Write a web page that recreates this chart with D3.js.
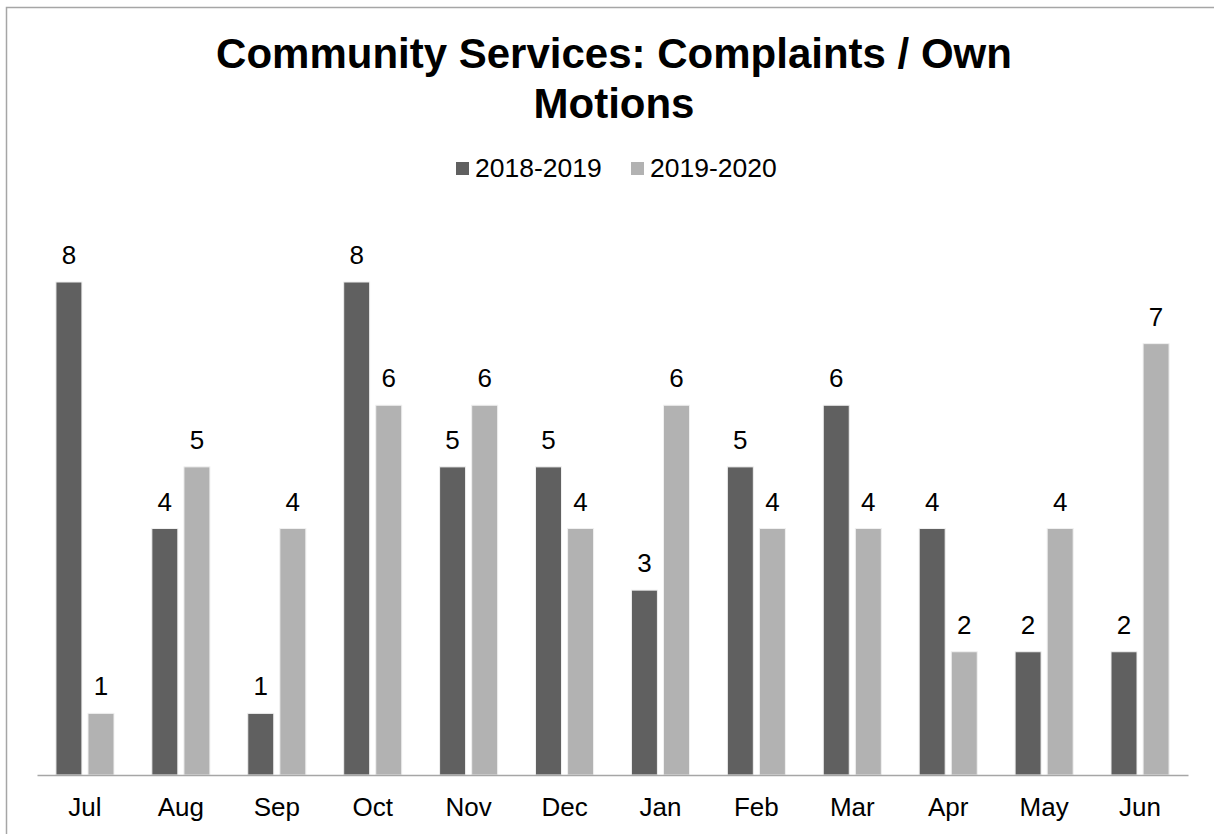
<!DOCTYPE html>
<html>
<head>
<meta charset="utf-8">
<script src="https://cdn.jsdelivr.net/npm/d3@7/dist/d3.min.js"></script>
<style>
  html, body { margin: 0; padding: 0; background: #fff; }
  svg { display: block; font-family: "Liberation Sans", Arial, sans-serif; }
</style>
</head>
<body>
<svg id="chart" width="1214" height="834"></svg>
<script>
// Monthly complaints / own motions, by financial year
const months = ["Jul", "Aug", "Sep", "Oct", "Nov", "Dec", "Jan", "Feb", "Mar", "Apr", "May", "Jun"];
const seriesNames = ["2018-2019", "2019-2020"];
const values2018 = [8, 4, 1, 8, 5, 5, 3, 5, 6, 4, 2, 2];
const values2019 = [1, 5, 4, 6, 6, 4, 6, 4, 4, 2, 4, 7];
const seriesColors = ["#606060", "#b2b2b2"];
const titleLines = ["Community Services: Complaints / Own", "Motions"];

const series = [values2018, values2019];

const svg = d3.select("#chart");
const W = 1214, H = 834;

// Outer chart frame (only the top and left edges fall inside the viewport)
svg.append("rect")
  .attr("x", 6.5).attr("y", 7.5)
  .attr("width", W).attr("height", H)
  .attr("fill", "#fff")
  .attr("stroke", "#a6a6a6")
  .attr("stroke-width", 1.5);

// Title
const title = svg.append("text")
  .attr("text-anchor", "middle")
  .attr("font-size", 42)
  .attr("font-weight", "bold")
  .attr("fill", "#000");
titleLines.forEach((line, i) => {
  title.append("tspan").attr("x", 614).attr("y", 68 + i * 50).text(line);
});

// Legend
const legendItems = [
  { name: seriesNames[0], color: seriesColors[0], x: 456 },
  { name: seriesNames[1], color: seriesColors[1], x: 631 }
];
const legend = svg.append("g");
legendItems.forEach(d => {
  legend.append("rect")
    .attr("x", d.x).attr("y", 162)
    .attr("width", 13).attr("height", 13)
    .attr("fill", d.color);
  legend.append("text")
    .attr("x", d.x + 19).attr("y", 177)
    .attr("font-size", 26.5)
    .attr("fill", "#000")
    .text(d.name);
});

// Plot area
const plot = { left: 37, right: 1188, top: 282, bottom: 775 };

const x0 = d3.scaleBand()
  .domain(months)
  .range([plot.left, plot.right])
  .paddingInner(0)
  .paddingOuter(0);

const x1 = d3.scaleBand()
  .domain(d3.range(series.length))
  .range([0, x0.bandwidth()])
  .paddingInner(0.19)
  .paddingOuter(0.59);

const y = d3.scaleLinear()
  .domain([0, 8])
  .range([plot.bottom, plot.top]);

const groups = svg.append("g").selectAll("g")
  .data(months)
  .join("g")
  .attr("transform", d => `translate(${x0(d)},0)`);

groups.selectAll("rect")
  .data((m, i) => series.map((s, k) => ({ k, v: s[i] })))
  .join("rect")
  .attr("x", d => x1(d.k))
  .attr("y", d => y(d.v))
  .attr("width", x1.bandwidth())
  .attr("height", d => y(0) - y(d.v))
  .attr("fill", d => seriesColors[d.k])
  .attr("stroke", "#f0f0f0")
  .attr("stroke-width", 1);

// Value labels above bars
groups.selectAll("text.val")
  .data((m, i) => series.map((s, k) => ({ k, v: s[i] })))
  .join("text")
  .attr("class", "val")
  .attr("x", d => x1(d.k) + x1.bandwidth() / 2)
  .attr("y", d => y(d.v) - 18)
  .attr("text-anchor", "middle")
  .attr("font-size", 26)
  .attr("fill", "#000")
  .text(d => d.v);

// Category axis
const xAxis = svg.append("g")
  .attr("transform", `translate(0,${plot.bottom})`)
  .call(d3.axisBottom(x0).tickSize(0).tickPadding(0));
xAxis.select(".domain")
  .attr("stroke", "#a6a6a6")
  .attr("stroke-width", 1.5);
xAxis.selectAll("text")
  .attr("font-size", 26)
  .attr("font-family", "Liberation Sans, Arial, sans-serif")
  .attr("fill", "#000")
  .attr("dy", null)
  .attr("y", 41);
</script>
</body>
</html>
